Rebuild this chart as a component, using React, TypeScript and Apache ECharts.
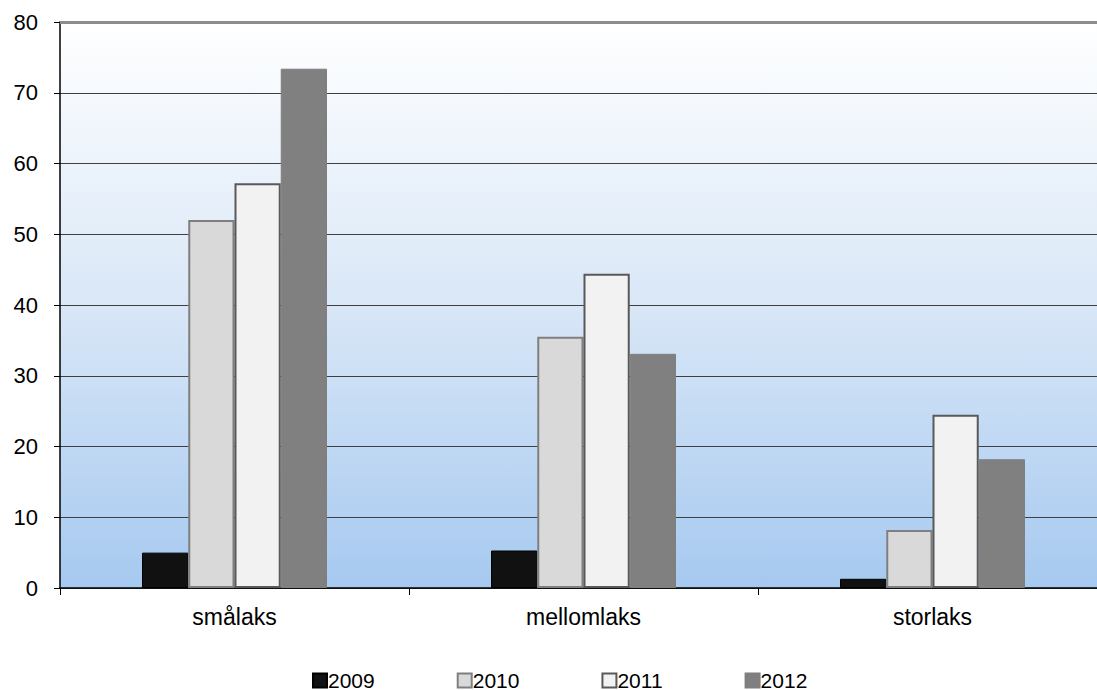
import React, { useEffect, useRef } from "react";
import * as echarts from "echarts";

const categories = ["smålaks", "mellomlaks", "storlaks"];
const years = ["2009", "2010", "2011", "2012"];
const v2009 = [5.0, 5.3, 1.3];
const v2010 = [52.0, 35.5, 8.2];
const v2011 = [57.2, 44.4, 24.5];
const v2012 = [73.4, 33.1, 18.2];
const yTicks = [0, 10, 20, 30, 40, 50, 60, 70, 80];

const seriesValues = [v2009, v2010, v2011, v2012];
const fills = ["#111111", "#d9d9d9", "#f2f2f2", "#808080"];
const borders = ["#000000", "#7f7f7f", "#595959", "#7f7f7f"];
const borderWidths = [1, 2, 2, 1];

export default function App() {
  const ref = useRef<HTMLDivElement>(null);
  useEffect(() => {
    if (!ref.current) return;
    const chart = echarts.init(ref.current, null, { renderer: "svg" });
    const font = "Liberation Sans";
    chart.setOption({
      animation: false,
      textStyle: { fontFamily: font },
      grid: {
        left: 60,
        top: 22,
        bottom: 102,
        right: 13,
        show: true,
        borderWidth: 0,
        backgroundColor: new echarts.graphic.LinearGradient(0, 0, 0, 1, [
          { offset: 0, color: "#ffffff" },
          { offset: 0.5, color: "#d9e7f7" },
          { offset: 1, color: "#a6c9f0" },
        ]),
      },
      legend: {
        top: 665,
        left: 307,
        itemWidth: 14,
        itemHeight: 14,
        itemGap: 82,
        icon: "rect",
        textStyle: { fontSize: 21, color: "#000", fontFamily: font, padding: [0, 0, 0, -4] },
        data: years,
      },
      xAxis: {
        type: "category",
        data: categories,
        axisLine: { lineStyle: { color: "#000", width: 1.5 } },
        axisTick: { show: true, length: 7, lineStyle: { color: "#000" } },
        axisLabel: { fontSize: 23, color: "#000", margin: 17, fontFamily: font },
      },
      yAxis: {
        type: "value",
        min: yTicks[0],
        max: yTicks[yTicks.length - 1],
        interval: 10,
        axisLine: { show: true, lineStyle: { color: "#000", width: 1.5 } },
        axisTick: { show: true, length: 6, lineStyle: { color: "#000" } },
        axisLabel: { fontSize: 22, color: "#000", margin: 22, fontFamily: font },
        splitLine: {
          show: true,
          lineStyle: {
            color: ["#404040", "#404040", "#404040", "#404040", "#404040", "#404040", "#404040", "#404040", "#8c8c8c"],
            width: 1,
          },
        },
      },
      series: years.map((y, i) => ({
        name: y,
        type: "bar",
        data: seriesValues[i],
        barGap: "0%",
        barCategoryGap: "47%",
        itemStyle: {
          color: fills[i],
          borderColor: borders[i],
          borderWidth: borderWidths[i],
        },
        ...(i === 0
          ? {
              markLine: {
                silent: true,
                symbol: "none",
                label: { show: false },
                lineStyle: { color: "#8c8c8c", width: 3, type: "solid" },
                data: [{ yAxis: 80 }],
              },
            }
          : {}),
      })),
    });
    return () => chart.dispose();
  }, []);
  return (
    <div style={{ position: "absolute", left: 0, top: 0, width: 1097, height: 690, overflow: "hidden", background: "#fff" }}>
      <div ref={ref} style={{ width: 1120, height: 690 }} />
    </div>
  );
}
